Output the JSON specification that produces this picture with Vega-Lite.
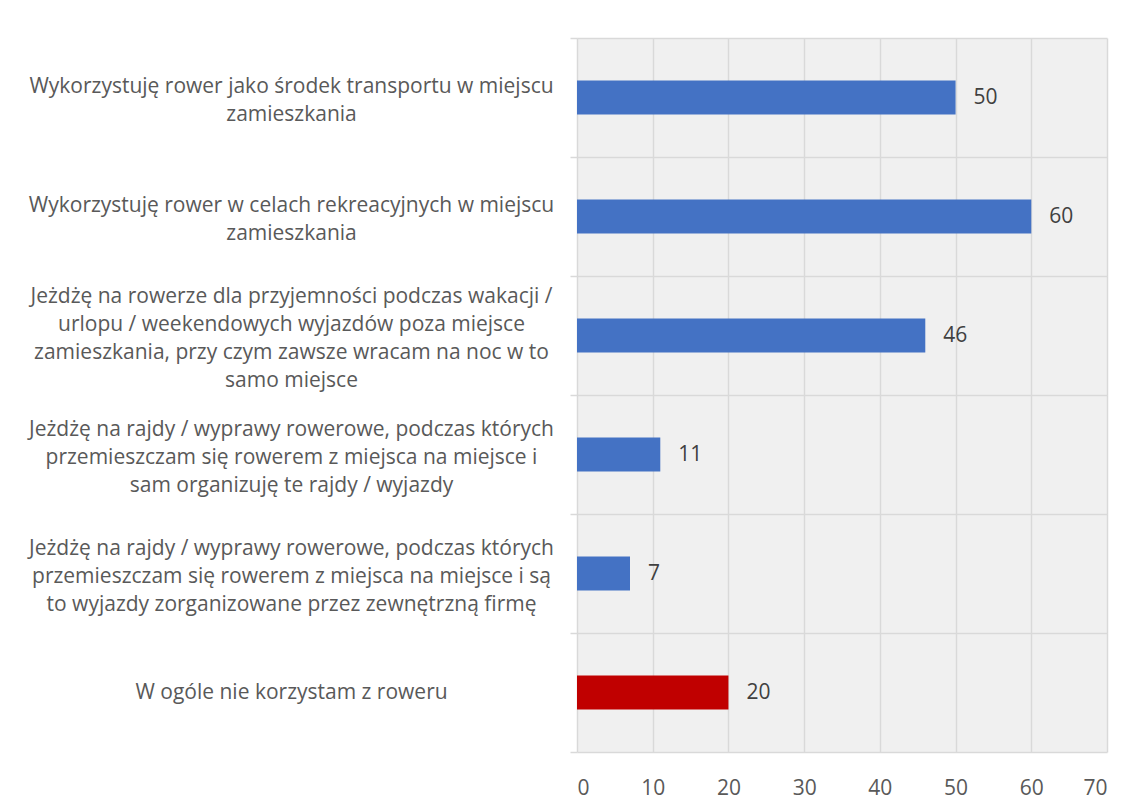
{
  "$schema": "https://vega.github.io/schema/vega-lite/v6.json",
  "width": 530,
  "height": 714,
  "autosize": "none",
  "padding": {"left": 577, "top": 38, "right": 31, "bottom": 57},
  "background": "white",
  "config": {"view": {"fill": "#f0f0f0", "stroke": null}, "font": "Open Sans"},
  "data": {
    "values": [
      {"kategoria": "Wykorzystuję rower jako środek transportu w miejscu|zamieszkania", "procent": 50, "grupa": "korzysta"},
      {"kategoria": "Wykorzystuję rower w celach rekreacyjnych w miejscu|zamieszkania", "procent": 60, "grupa": "korzysta"},
      {"kategoria": "Jeżdżę na rowerze dla przyjemności podczas wakacji /|urlopu / weekendowych wyjazdów poza miejsce|zamieszkania, przy czym zawsze wracam na noc w to|samo miejsce", "procent": 46, "grupa": "korzysta"},
      {"kategoria": "Jeżdżę na rajdy / wyprawy rowerowe, podczas których|przemieszczam się rowerem z miejsca na miejsce i|sam organizuję te rajdy / wyjazdy", "procent": 11, "grupa": "korzysta"},
      {"kategoria": "Jeżdżę na rajdy / wyprawy rowerowe, podczas których|przemieszczam się rowerem z miejsca na miejsce i są|to wyjazdy zorganizowane przez zewnętrzną firmę", "procent": 7, "grupa": "korzysta"},
      {"kategoria": "W ogóle nie korzystam z roweru", "procent": 20, "grupa": "nie korzysta"}
    ]
  },
  "encoding": {
    "y": {
      "field": "kategoria",
      "type": "nominal",
      "sort": null,
      "scale": {"paddingInner": 0, "paddingOuter": 0},
      "axis": {
        "title": null,
        "tickBand": "extent",
        "grid": true,
        "gridColor": "#d9d9d9",
        "gridWidth": 1.5,
        "domain": false,
        "tickColor": "#d9d9d9",
        "tickSize": 7,
        "tickWidth": 1.5,
        "labelAlign": "center",
        "labelBaseline": "middle",
        "labelPadding": 279,
        "labelLimit": 0,
        "labelFont": "Open Sans",
        "labelFontSize": 21,
        "labelColor": "#595959",
        "labelLineHeight": 28,
        "labelOffset": {
          "condition": [
            {"test": "length(split(datum.label, '|')) == 2", "value": -11},
            {"test": "length(split(datum.label, '|')) == 3", "value": -25},
            {"test": "length(split(datum.label, '|')) == 4", "value": -39}
          ],
          "value": 0
        },
        "labelExpr": "split(datum.label, '|')"
      }
    },
    "x": {
      "field": "procent",
      "type": "quantitative",
      "scale": {"domain": [0, 70], "nice": false},
      "axis": {
        "title": null,
        "values": [0, 10, 20, 30, 40, 50, 60, 70],
        "grid": true,
        "gridColor": "#d9d9d9",
        "gridWidth": 1.5,
        "domain": false,
        "ticks": false,
        "tickSize": 0,
        "labelPadding": 25,
        "labelFont": "Open Sans",
        "labelFontSize": 21,
        "labelColor": "#595959"
      }
    }
  },
  "layer": [
    {
      "mark": {"type": "bar", "size": 34},
      "encoding": {
        "color": {
          "field": "grupa",
          "type": "nominal",
          "scale": {"domain": ["korzysta", "nie korzysta"], "range": ["#4472C4", "#C00000"]},
          "legend": null
        }
      }
    },
    {
      "mark": {"type": "text", "align": "left", "baseline": "middle", "dx": 18, "fontSize": 21, "font": "Open Sans", "color": "#404040"},
      "encoding": {"text": {"field": "procent", "type": "quantitative"}}
    }
  ]
}
